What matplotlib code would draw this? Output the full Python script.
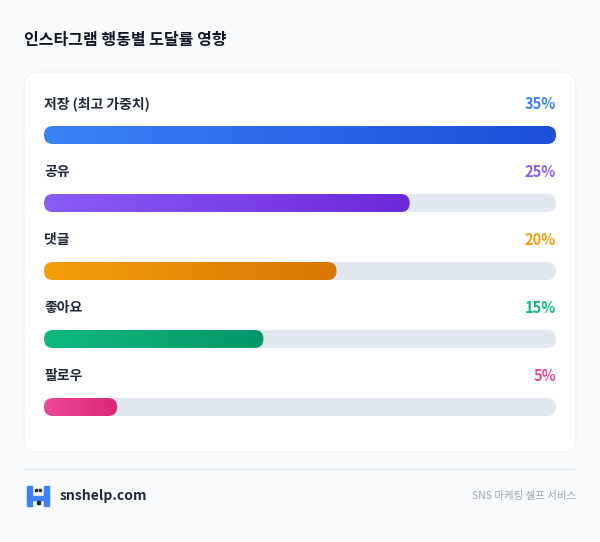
import numpy as np
import matplotlib
matplotlib.use("Agg")
import matplotlib.pyplot as plt
from matplotlib.patches import FancyBboxPatch, Rectangle
from matplotlib.colors import LinearSegmentedColormap

plt.rcParams['font.family'] = ['Noto Sans CJK KR', 'DejaVu Sans']

title = "인스타그램 행동별 도달률 영향"
categories = ["저장 (최고 가중치)", "공유", "댓글", "좋아요", "팔로우"]
values = [35, 25, 20, 15, 5]
labels = ["35%", "25%", "20%", "15%", "5%"]
colors = [("#3B82F6", "#1D4ED8"), ("#8B5CF6", "#6D28D9"), ("#F59E0B", "#D97706"),
          ("#10B981", "#059669"), ("#EC4899", "#DB2777")]
text_colors = ["#3B82F6", "#8B5CF6", "#F59E0B", "#10B981", "#EC4899"]
footer_left = "snshelp.com"
footer_right = "SNS 마케팅 셀프 서비스"

W, H = 600, 542
fig = plt.figure(figsize=(6, 5.42), dpi=100, facecolor="#F8FAFC")
ax = fig.add_axes([0, 0, 1, 1])
ax.set_xlim(0, W); ax.set_ylim(H, 0); ax.axis("off")

ax.text(24, 40, title, fontsize=11.5, fontweight="bold", color="#111827", va="center")
card = FancyBboxPatch((24, 72), 552, 380, boxstyle="round,pad=0,rounding_size=14",
                      fc="white", ec="#EEF1F5", lw=0.8)
ax.add_patch(card)
for i, (c, l) in enumerate(zip(categories, labels)):
    y = 104 + 68 * i
    ax.text(44, y, c, fontsize=10, fontweight="bold", color="#1F2937", va="center")
    ax.text(556, y, l, fontsize=10.5, fontweight="bold", color=text_colors[i], va="center", ha="right")

ax.plot([24, 576], [469, 469], color="#E2E8F0", lw=0.8)
# logo
ax.add_patch(Rectangle((27, 486), 5, 20, color="#3B82F6"))
ax.add_patch(Rectangle((44, 486), 5, 20, color="#3B82F6"))
ax.add_patch(Rectangle((27, 496), 22, 4, color="#3B82F6"))
ax.add_patch(Rectangle((35, 489), 2, 2, color="#1F2937"))
ax.add_patch(Rectangle((39, 489), 2, 2, color="#1F2937"))
ax.add_patch(Rectangle((36.5, 501), 3, 3, color="#1F2937"))
ax.text(60, 496, footer_left, fontsize=10, fontweight="bold", color="#1F2937", va="center")
ax.text(576, 496, footer_right, fontsize=7.5, color="#9CA3AF", va="center", ha="right")

# bar axes: pixel x 44..556, y 101..441
vmax = max(values)
bx = fig.add_axes([44 / W, 1 - 441 / H, 512 / W, 340 / H])
bx.set_xlim(0, vmax); bx.set_ylim(4.5, -0.5); bx.axis("off")
px_x = 512 / vmax
asp = px_x / 68
r = 9 / px_x
h = 18 / 68
grad = np.linspace(0, 1, 256).reshape(1, -1)
for i, v in enumerate(values):
    track = FancyBboxPatch((0, i - h / 2), vmax, h, boxstyle=f"round,pad=0,rounding_size={r}",
                           mutation_aspect=asp, fc="#E2E8F0", ec="none")
    bx.add_patch(track)
    bar = FancyBboxPatch((0, i - h / 2), v, h, boxstyle=f"round,pad=0,rounding_size={r}",
                         mutation_aspect=asp, fc="none", ec="none")
    bx.add_patch(bar)
    cmap = LinearSegmentedColormap.from_list("g", list(colors[i]))
    im = bx.imshow(grad, cmap=cmap, aspect="auto", extent=(0, v, i + h / 2, i - h / 2), zorder=3)
    im.set_clip_path(bar)
bx.set_xlim(0, vmax); bx.set_ylim(4.5, -0.5)

fig.savefig("out.png", dpi=100, facecolor=fig.get_facecolor())
